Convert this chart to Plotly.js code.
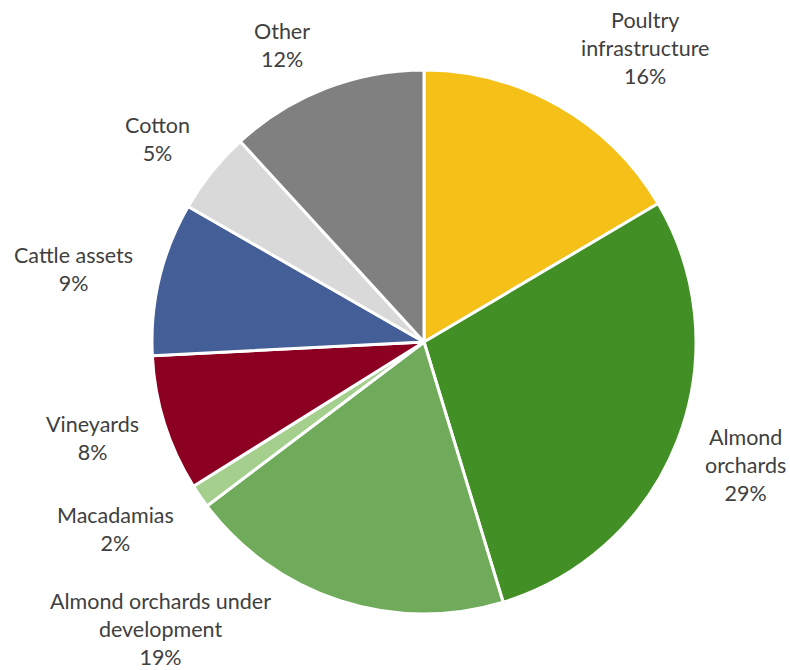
<!DOCTYPE html>
<html>
<head>
<meta charset="utf-8">
<script src="https://cdn.plot.ly/plotly-3.0.1.min.js"></script>
<style>html,body{margin:0;padding:0;background:#fff;}#chart{width:790px;height:670px;}</style>
</head>
<body>
<div id="chart"></div>
<script>
const categories = ["Poultry infrastructure", "Almond orchards", "Almond orchards under development", "Macadamias", "Vineyards", "Cattle assets", "Cotton", "Other"];
const labelText = ["Poultry<br>infrastructure", "Almond<br>orchards", "Almond orchards under<br>development", "Macadamias", "Vineyards", "Cattle assets", "Cotton", "Other"];
const values = [16.5, 28.8, 19.4, 1.4, 8.1, 9.1, 4.9, 11.8];
const percentLabels = ["16%", "29%", "19%", "2%", "8%", "9%", "5%", "12%"];
const colors = ["#F5C018", "#429025", "#70AB5B", "#A4CF8D", "#8C0021", "#445E97", "#D9D9D9", "#808080"];

// label anchor positions in pixels (layout only)
const labelPos = [[645, 48], [745, 465], [160, 629], [115, 529], [92, 438], [73, 269], [157, 139], [282, 45]];

const W = 790, H = 670;
const cx = 424, cy = 342, r = 272;

const annotations = categories.map((c, i) => ({
  text: labelText[i] + "<br>" + percentLabels[i],
  x: labelPos[i][0] / W,
  y: 1 - labelPos[i][1] / H,
  xref: "paper", yref: "paper",
  xanchor: "center", yanchor: "middle",
  showarrow: false,
  align: "center",
  font: {family: "Lato, 'Noto Sans', sans-serif", size: 21.5, color: "#404040"}
}));

const trace = {
  type: "pie",
  labels: categories,
  values: values,
  sort: false,
  direction: "clockwise",
  rotation: 0,
  textinfo: "none",
  hoverinfo: "label+percent",
  marker: {colors: colors, line: {color: "#ffffff", width: 3}},
  domain: {x: [(cx - r) / W, (cx + r) / W], y: [1 - (cy + r) / H, 1 - (cy - r) / H]}
};

Plotly.newPlot("chart", [trace], {
  width: W, height: H,
  margin: {l: 0, r: 0, t: 0, b: 0},
  showlegend: false,
  paper_bgcolor: "#ffffff",
  annotations: annotations
}, {displayModeBar: false, staticPlot: true});
</script>
</body>
</html>
